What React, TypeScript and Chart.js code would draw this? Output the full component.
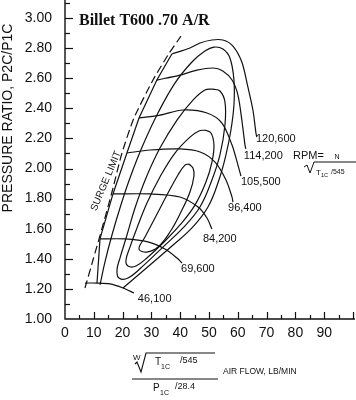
import React, { useEffect, useRef } from 'react';
import { Chart, registerables } from 'chart.js';

Chart.register(...registerables);

type P = [number, number];

// ---- axis ticks ----
const xTickValues = [0, 10, 20, 30, 40, 50, 60, 70, 80, 90];
const yTickValues = [1.0, 1.2, 1.4, 1.6, 1.8, 2.0, 2.2, 2.4, 2.6, 2.8, 3.0];

// ---- surge ----
const surgeLimit: P[] = [[6.94, 1.206], [9.72, 1.392], [13.19, 1.625], [16.31, 1.844], [19.78, 2.103], [23.95, 2.336], [30.55, 2.588], [35.75, 2.754], [40.26, 2.88]];
const surgeStarts: P[] = [[11.11, 1.239], [12.15, 1.532], [16.66, 1.831], [21.5, 2.103], [25.7, 2.336], [31.9, 2.588], [37.1, 2.761]];

// ---- speed lines (corrected rpm) ----
const rpm46100: P[] = [[6.94, 1.239], [11.11, 1.239], [15.62, 1.233], [20.13, 1.206], [23.95, 1.173]];
const rpm69600: P[] = [[12.15, 1.532], [20.8, 1.532], [28.8, 1.512], [34.7, 1.465], [38.9, 1.405], [40.6, 1.372]];
const rpm84200: P[] = [[16.66, 1.831], [29.5, 1.831], [39.9, 1.811], [46.2, 1.744], [49.3, 1.671], [51.0, 1.598]];
const rpm96400: P[] = [[21.5, 2.103], [29.5, 2.123], [39.9, 2.13], [46.9, 2.11], [52.1, 2.043], [55.9, 1.924], [58.0, 1.81], [58.3, 1.777]];
const rpm105500: P[] = [[25.7, 2.336], [33.0, 2.355], [41.0, 2.389], [49.3, 2.369], [54.5, 2.302], [58.0, 2.156], [60.05, 2.023], [61.1, 1.95]];
const rpm114200: P[] = [[31.9, 2.588], [39.9, 2.621], [45.8, 2.654], [51.4, 2.668], [54.8, 2.648], [58.0, 2.588], [60.05, 2.488], [61.4, 2.322], [62.5, 2.156], [62.8, 2.13]];
const rpm120600: P[] = [[37.1, 2.761], [43.4, 2.801], [46.9, 2.834], [51.0, 2.854], [54.8, 2.854], [58.3, 2.814], [61.4, 2.708], [63.5, 2.542], [65.25, 2.389], [66.3, 2.236], [66.6, 2.209]];

const speedLabelNames = ['46,100', '69,600', '84,200', '96,400', '105,500', '114,200', '120,600'];
const speedLabelX = [25.3, 40.3, 47.9, 56.6, 61.1, 62.1, 66.3];
const speedLabelY = [1.133, 1.332, 1.532, 1.738, 1.91, 2.083, 2.196];

// ---- efficiency contours ----
const eff1: P[] = [[43.04, 2.03], [41.65, 2.023], [39.22, 1.957], [35.4, 1.824], [31.24, 1.671], [27.77, 1.545], [25.69, 1.465], [28.46, 1.445], [32.28, 1.478], [36.45, 1.578], [40.26, 1.711], [43.39, 1.844], [44.78, 1.95], [44.43, 2.003], [43.04, 2.03]];
const eff2: P[] = [[48.59, 2.256], [50.68, 2.236], [51.72, 2.156], [51.02, 2.043], [48.94, 1.91], [45.12, 1.757], [39.92, 1.625], [34.02, 1.505], [28.81, 1.412], [24.64, 1.352], [21.87, 1.352], [21.17, 1.392], [22.56, 1.478], [24.99, 1.605], [28.46, 1.771], [32.97, 1.944], [38.18, 2.103], [43.39, 2.209], [46.51, 2.249], [48.59, 2.256]];
const eff3: P[] = [[51.37, 2.528], [53.8, 2.515], [55.54, 2.442], [55.54, 2.289], [53.8, 2.09], [51.02, 1.924], [46.86, 1.744], [40.96, 1.605], [34.02, 1.478], [27.77, 1.365], [21.87, 1.272], [18.74, 1.272], [18.05, 1.326], [19.09, 1.405], [21.52, 1.558], [24.3, 1.738], [28.12, 1.937], [32.97, 2.136], [38.88, 2.322], [44.43, 2.455], [48.59, 2.522], [51.37, 2.528]];
const eff4: P[] = [[12.15, 1.226], [13.88, 1.379], [16.31, 1.558], [19.09, 1.738], [22.56, 1.937], [27.07, 2.156], [32.28, 2.369], [38.18, 2.568], [44.08, 2.708], [48.59, 2.781], [51.72, 2.807], [54.84, 2.794], [57.27, 2.734], [58.66, 2.588], [58.66, 2.422], [57.62, 2.256], [55.88, 2.09], [53.45, 1.924], [49.64, 1.744], [44.08, 1.605], [37.14, 1.485], [29.5, 1.359], [20.13, 1.206]];

const FONT = '"Liberation Sans", Arial, sans-serif';
const INK = '#111';

const lineDs = (pts: P[], tension: number, dash: number[] = []) => ({
  data: pts.map(([x, y]) => ({ x, y })),
  showLine: true,
  borderColor: INK,
  borderWidth: 1.2,
  borderDash: dash,
  pointRadius: 0,
  tension,
  fill: false,
});

const decor = {
  id: 'decor',
  afterDraw(chart: any) {
    const ctx: CanvasRenderingContext2D = chart.ctx;
    const xs = chart.scales.x;
    const ys = chart.scales.y;
    const { left, right, top, bottom } = chart.chartArea;
    ctx.save();
    ctx.strokeStyle = INK;
    ctx.fillStyle = INK;
    ctx.lineWidth = 1.4;
    // axes
    ctx.beginPath();
    ctx.moveTo(left, Math.max(0, top - 3));
    ctx.lineTo(left, bottom);
    ctx.lineTo(right + 2, bottom);
    ctx.stroke();
    // x ticks (inward)
    ctx.lineWidth = 1.2;
    for (let i = 1; i <= 20; i++) {
      const v = i * 5;
      const px = Math.round(xs.getPixelForValue(v)) + 0.5;
      const len = i % 2 === 0 ? 7 : 4;
      ctx.beginPath();
      ctx.moveTo(px, bottom);
      ctx.lineTo(px, bottom - len);
      ctx.stroke();
    }
    // y ticks (inward)
    for (let i = 1; i <= 21; i++) {
      const v = 1 + i * 0.1;
      const py = Math.round(ys.getPixelForValue(v)) + 0.5;
      const len = i % 2 === 0 ? 8 : 5;
      ctx.beginPath();
      ctx.moveTo(left, py);
      ctx.lineTo(left + len, py);
      ctx.stroke();
    }
    // speed labels
    ctx.font = `11px ${FONT}`;
    ctx.textAlign = 'left';
    ctx.textBaseline = 'middle';
    speedLabelNames.forEach((n, i) => {
      ctx.fillText(n, xs.getPixelForValue(speedLabelX[i]), ys.getPixelForValue(speedLabelY[i]));
    });
    // RPM formula
    ctx.fillText('RPM=', 293, 156);
    ctx.font = `7px ${FONT}`;
    ctx.textAlign = 'center';
    ctx.fillText('N', 337, 157);
    ctx.lineWidth = 1;
    ctx.beginPath();
    ctx.moveTo(304, 167);
    ctx.lineTo(307, 165);
    ctx.lineTo(310, 173);
    ctx.lineTo(314, 162);
    ctx.lineTo(356, 162);
    ctx.stroke();
    ctx.textAlign = 'left';
    ctx.font = `8px ${FONT}`;
    ctx.fillText('T', 316, 173);
    ctx.font = `5.5px ${FONT}`;
    ctx.fillText('1C', 321, 175);
    ctx.font = `7px ${FONT}`;
    ctx.fillText('/545', 331, 172);

    // title
    ctx.font = `bold 16px "Liberation Serif", "Times New Roman", serif`;
    ctx.textBaseline = 'alphabetic';
    ctx.textAlign = 'left';
    ctx.fillText('Billet T600 .70 A/R', 79, 25);

    // y title
    ctx.save();
    ctx.translate(8, 118);
    ctx.rotate(-Math.PI / 2);
    ctx.font = `14px ${FONT}`;
    ctx.textAlign = 'center';
    ctx.textBaseline = 'middle';
    ctx.fillText('PRESSURE RATIO, P2C/P1C', 0, 0);
    ctx.restore();

    // surge limit label
    ctx.save();
    ctx.translate(106, 181);
    ctx.rotate((-67.4 * Math.PI) / 180);
    ctx.font = `10px ${FONT}`;
    ctx.textAlign = 'center';
    ctx.textBaseline = 'middle';
    ctx.fillText('SURGE LIMIT', 0, 0);
    ctx.restore();

    // x axis formula
    ctx.textAlign = 'left';
    ctx.textBaseline = 'middle';
    ctx.font = `8px ${FONT}`;
    ctx.fillText('W', 133, 358);
    ctx.lineWidth = 1.1;
    ctx.beginPath();
    ctx.moveTo(135, 364);
    ctx.lineTo(137, 362);
    ctx.lineTo(141, 372);
    ctx.lineTo(146, 353);
    ctx.lineTo(215, 353);
    ctx.stroke();
    ctx.font = `10px ${FONT}`;
    ctx.fillText('T', 155, 362);
    ctx.font = `7px ${FONT}`;
    ctx.fillText('1C', 161, 367);
    ctx.font = `9px ${FONT}`;
    ctx.fillText('/545', 180, 361);
    ctx.font = `8.5px ${FONT}`;
    ctx.fillText('AIR FLOW, LB/MIN', 223, 372);
    ctx.beginPath();
    ctx.moveTo(132, 379);
    ctx.lineTo(218, 379);
    ctx.stroke();
    ctx.font = `10px ${FONT}`;
    ctx.fillText('P', 153, 388);
    ctx.font = `7px ${FONT}`;
    ctx.fillText('1C', 160, 393);
    ctx.font = `9px ${FONT}`;
    ctx.fillText('/28.4', 175, 387);
    ctx.restore();
  },
};

export default function App() {
  const ref = useRef<HTMLCanvasElement>(null);
  useEffect(() => {
    const canvas = ref.current;
    if (!canvas) return;
    const datasets: any[] = [
      lineDs(eff1, 0.4),
      lineDs(eff2, 0.4),
      lineDs(eff3, 0.4),
      lineDs(eff4, 0.4),
      lineDs(rpm46100, 0.3),
      lineDs(rpm69600, 0.3),
      lineDs(rpm84200, 0.3),
      lineDs(rpm96400, 0.3),
      lineDs(rpm105500, 0.3),
      lineDs(rpm114200, 0.3),
      lineDs(rpm120600, 0.3),
      lineDs(surgeStarts, 0),
      lineDs(surgeLimit, 0.2, [8, 4]),
    ];
    const chart = new Chart(canvas, {
      type: 'scatter',
      data: { datasets },
      options: {
        responsive: false,
        animation: false,
        devicePixelRatio: 1,
        events: [],
        layout: { padding: { top: 3, right: 3, left: 0, bottom: 0 } },
        plugins: {
          legend: { display: false },
          tooltip: { enabled: false },
          title: { display: false },
        },
        scales: {
          x: {
            type: 'linear',
            min: 0,
            max: 100,
            grid: { display: false, drawTicks: false },
            border: { display: false },
            afterBuildTicks: (s: any) => {
              s.ticks = xTickValues.map((value) => ({ value }));
            },
            ticks: {
              padding: 6,
              autoSkip: false,
              maxRotation: 0,
              color: INK,
              font: { family: FONT, size: 14 },
              callback: (v: any) => String(v),
            },
            afterFit: (s: any) => {
              s.height = 81;
              s.paddingLeft = 0;
              s.paddingRight = 0;
            },
          },
          y: {
            type: 'linear',
            min: 1,
            max: 3.1,
            grid: { display: false, drawTicks: false },
            border: { display: false },
            afterBuildTicks: (s: any) => {
              s.ticks = yTickValues.map((value) => ({ value }));
            },
            ticks: {
              padding: 13,
              autoSkip: false,
              color: INK,
              font: { family: FONT, size: 14 },
              callback: (v: any) => Number(v).toFixed(2),
            },
            afterFit: (s: any) => {
              s.width = 65;
              s.paddingTop = 0;
              s.paddingBottom = 0;
            },
          },
        },
      },
      plugins: [decor],
    } as any);
    return () => chart.destroy();
  }, []);
  return (
    <div style={{ position: 'absolute', left: 0, top: 0, width: 356, height: 400, background: '#fff' }}>
      <canvas ref={ref} width={356} height={400} style={{ display: 'block', width: 356, height: 400 }} />
    </div>
  );
}
